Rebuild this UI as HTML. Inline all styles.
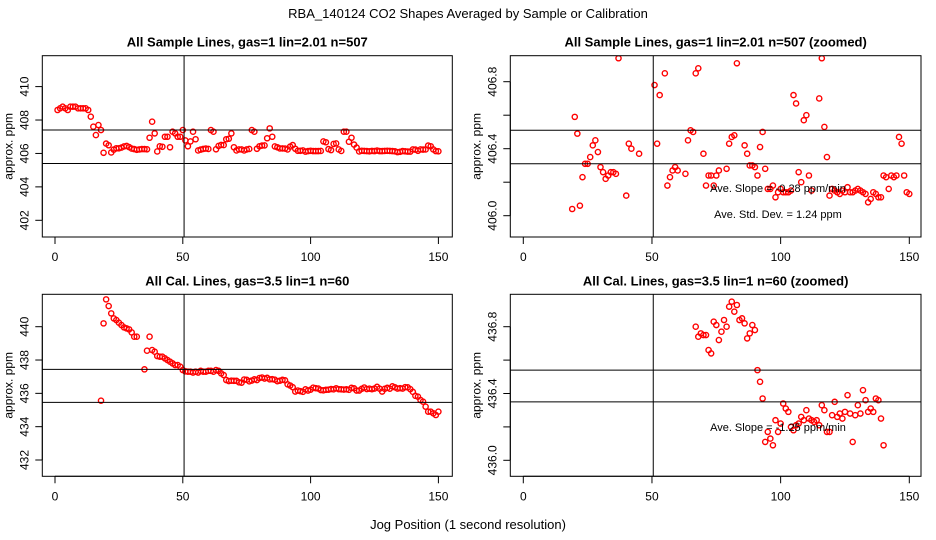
<!DOCTYPE html>
<html><head><meta charset="utf-8"><style>
html,body{margin:0;padding:0;background:#fff;width:936px;height:540px;overflow:hidden}
svg{display:block;font-family:"Liberation Sans",sans-serif}
</style></head><body>
<svg id="chart" width="936" height="540" viewBox="0 0 936 540" xmlns="http://www.w3.org/2000/svg">
<rect width="936" height="540" fill="#fff"/>
<text x="468" y="18" font-size="13" text-anchor="middle">RBA_140124  CO2 Shapes Averaged by Sample or Calibration</text>
<text x="468" y="529" font-size="13" text-anchor="middle">Jog Position (1 second resolution)</text>
</svg>
<script>
const jog = Array.from({length:150},(_,i)=>i+1);
const sampleValues = [408.6,408.7,408.8,408.7,408.6,408.8,408.8,408.8,408.7,408.7,408.7,408.7,408.6,
408.2,407.6,407.1,407.7,407.4,
406.04,406.59,406.49,406.06,406.23,406.31,406.31,406.35,406.42,406.45,406.38,406.29,406.26,406.22,406.24,406.26,406.26,406.25,406.94,407.9,407.2,406.12,
406.43,406.40,407.0,407.0,406.37,407.3,407.2,407.0,407.0,407.4,
406.78,406.43,406.72,407.3,406.85,406.18,406.23,406.27,406.29,406.27,
407.4,407.3,406.25,406.45,406.51,406.50,406.85,406.88,407.2,406.37,
406.18,406.24,406.24,406.18,406.24,406.27,407.4,407.3,406.28,406.43,
406.47,406.48,406.91,407.5,407.0,406.42,406.37,406.30,406.30,406.29,
406.24,406.41,406.50,406.28,406.16,406.16,406.18,406.11,406.14,406.16,
406.14,406.14,406.14,406.15,406.72,406.67,406.26,406.20,406.57,406.60,
406.24,406.15,407.3,407.3,406.70,406.94,406.53,406.35,406.12,406.16,
406.15,406.14,406.13,406.15,406.14,406.17,406.14,406.14,406.15,406.16,
406.15,406.14,406.13,406.08,406.10,406.14,406.13,406.11,406.11,406.24,
406.23,406.16,406.24,406.23,406.24,406.47,406.43,406.24,406.14,406.13];
const calValues = [null,null,null,null,null,null,null,null,null,null,null,null,null,null,null,null,null,
435.56,440.2,441.64,441.24,440.8,440.5,440.4,440.24,440.1,439.96,439.9,439.84,439.66,439.4,439.4,null,null,437.44,438.56,439.4,438.6,438.5,438.24,
438.2,438.2,438.1,438.0,437.9,437.8,437.7,437.7,437.6,437.4,
437.32,437.3,437.3,437.25,437.3,437.25,437.35,437.3,437.3,437.35,
437.35,437.3,437.4,437.35,437.2,437.1,436.80,436.74,436.76,436.75,
436.75,436.66,436.64,436.83,436.81,436.72,436.77,436.84,436.80,436.92,
436.95,436.89,436.93,436.84,436.85,436.82,436.73,436.76,436.81,436.78,
436.54,436.47,436.37,436.11,436.17,436.13,436.09,436.24,436.17,436.22,
436.34,436.31,436.29,436.20,436.18,436.21,436.22,436.26,436.24,436.30,
436.25,436.24,436.23,436.24,436.21,436.33,436.30,436.17,436.17,436.27,
436.35,436.26,436.28,436.25,436.29,436.39,436.28,436.11,436.27,436.33,
436.28,436.42,436.36,436.29,436.31,436.29,436.37,436.36,436.25,436.09,
435.85,435.8,435.6,435.5,435.2,434.9,434.9,434.8,434.7,434.9];
const xTicks = [0,50,100,150];
const tlTicks = [402,404,406,408,410];
const tlLabels = ["402","404","406","408","410"];
const trTicks = [406.0,406.2,406.4,406.6,406.8];
const trLabels = ["406.0","","406.4","","406.8"];
const blTicks = [432,434,436,438,440];
const blLabels = ["432","434","436","438","440"];
const brTicks = [436.0,436.2,436.4,436.6,436.8];
const brLabels = ["436.0","","436.4","","436.8"];
const tlRefLines = [407.4,405.4];
const trRefLines = [406.51,406.31];
const blRefLines = [437.44,435.46];
const brRefLines = [436.54,436.35];
const refJog = 50.5;

const NS="http://www.w3.org/2000/svg";
const svg=document.getElementById('chart');
function mk(tag,attrs,parent){const e=document.createElementNS(NS,tag);for(const k in attrs)e.setAttribute(k,attrs[k]);(parent||svg).appendChild(e);return e;}
function lin(d0,d1,r0,r1){return v=>r0+(v-d0)*(r1-r0)/(d1-d0);}

function panel(cfg){
  const g=mk('g',{});
  
  
  const sx=lin(0,150,cfg.x0,cfg.x150), sy=lin(cfg.yd[0],cfg.yd[1],cfg.yr[0],cfg.yr[1]);
  const t=mk('text',{x:(cfg.L+cfg.R)/2,y:cfg.T-9,'font-size':13,'font-weight':'bold','text-anchor':'middle'},g);
  t.textContent=cfg.title;
  
  
  const cid='clip-'+cfg.name;
  const cp=mk('clipPath',{id:cid},g);mk('rect',{x:cfg.L,y:cfg.T,width:cfg.R-cfg.L,height:cfg.B-cfg.T},cp);
  const pg=mk('g',{'clip-path':'url(#'+cid+')'},g);
  cfg.vals.forEach((v,i)=>{ if(v===null)return;
    const cy=sy(v);
    if(cy<cfg.T-3||cy>cfg.B+3)return;
    const c=mk('circle',{cx:sx(jog[i]),cy:cy,r:2.6,fill:'none',stroke:'#ff0000','stroke-width':1.4},pg);
    
    
  });
  cfg.refs.forEach(r=>{const l=mk('line',{x1:cfg.L,x2:cfg.R,y1:sy(r),y2:sy(r),stroke:'#000','stroke-width':1},g);
    
    });
  const vl=mk('line',{x1:sx(refJog),x2:sx(refJog),y1:cfg.T,y2:cfg.B,stroke:'#000','stroke-width':1},g);
  
  
  const box=mk('rect',{x:cfg.L,y:cfg.T,width:cfg.R-cfg.L,height:cfg.B-cfg.T,fill:'none',stroke:'#000','stroke-width':1},g);
  
  
  const xa=mk('g',{},g);
  
  
  mk('line',{x1:sx(0),x2:sx(150),y1:cfg.B,y2:cfg.B,stroke:'#000'},xa);
  xTicks.forEach(v=>{mk('line',{x1:sx(v),x2:sx(v),y1:cfg.B,y2:cfg.B+7,stroke:'#000'},xa);
    const tx=mk('text',{x:sx(v),y:cfg.B+24,'font-size':12,'text-anchor':'middle'},xa);tx.textContent=v;});
  const ya=mk('g',{},g);
  
  
  mk('line',{x1:cfg.L,x2:cfg.L,y1:sy(cfg.ticks[0]),y2:sy(cfg.ticks[cfg.ticks.length-1]),stroke:'#000'},ya);
  cfg.ticks.forEach((v,i)=>{const y=sy(v);mk('line',{x1:cfg.L-7,x2:cfg.L,y1:y,y2:y,stroke:'#000'},ya);
    if(cfg.labels[i]){const tx=mk('text',{x:cfg.L-14,y:y,'font-size':12,'text-anchor':'middle',transform:`rotate(-90 ${cfg.L-14} ${y})`},ya);tx.textContent=cfg.labels[i];}});
  const yt=mk('text',{x:cfg.L-30,y:(cfg.T+cfg.B)/2,'font-size':12,'text-anchor':'middle',transform:`rotate(-90 ${cfg.L-30} ${(cfg.T+cfg.B)/2})`},g);
  yt.textContent='approx. ppm';
  
  
  (cfg.notes||[]).forEach(n=>{const a=mk('text',{x:n[0],y:n[1],'font-size':11,'text-anchor':'middle'},g);a.textContent=n[2];
    
    });
}
panel({name:'sample-panel',title:'All Sample Lines, gas=1 lin=2.01 n=507',L:42.3,R:452.3,T:55.7,B:237,x0:55,x150:438.4,yd:[402,410],yr:[220.3,86.6],ticks:tlTicks,labels:tlLabels,vals:sampleValues,refs:tlRefLines});
panel({name:'sample-zoomed-panel',title:'All Sample Lines, gas=1 lin=2.01 n=507 (zoomed)',L:510.3,R:921,T:55.7,B:237,x0:523.3,x150:909.3,yd:[406.0,406.8],yr:[215.7,81.7],ticks:trTicks,labels:trLabels,vals:sampleValues,refs:trRefLines,
  notes:[[778,192,'Ave. Slope = -0.28  ppm/min'],[778,218,'Ave. Std. Dev. =  1.24  ppm']]});
panel({name:'cal-panel',title:'All Cal. Lines, gas=3.5 lin=1 n=60',L:42.3,R:452.3,T:294.3,B:476.3,x0:55,x150:438.4,yd:[432,440],yr:[460,326.7],ticks:blTicks,labels:blLabels,vals:calValues,refs:blRefLines});
panel({name:'cal-zoomed-panel',title:'All Cal. Lines, gas=3.5 lin=1 n=60 (zoomed)',L:510.3,R:921,T:294.3,B:476.3,x0:523.3,x150:909.3,yd:[436.0,436.8],yr:[460.3,326.7],ticks:brTicks,labels:brLabels,vals:calValues,refs:brRefLines,
  notes:[[778,431,'Ave. Slope = -1.25  ppm/min']]});
</script>
</body></html>
